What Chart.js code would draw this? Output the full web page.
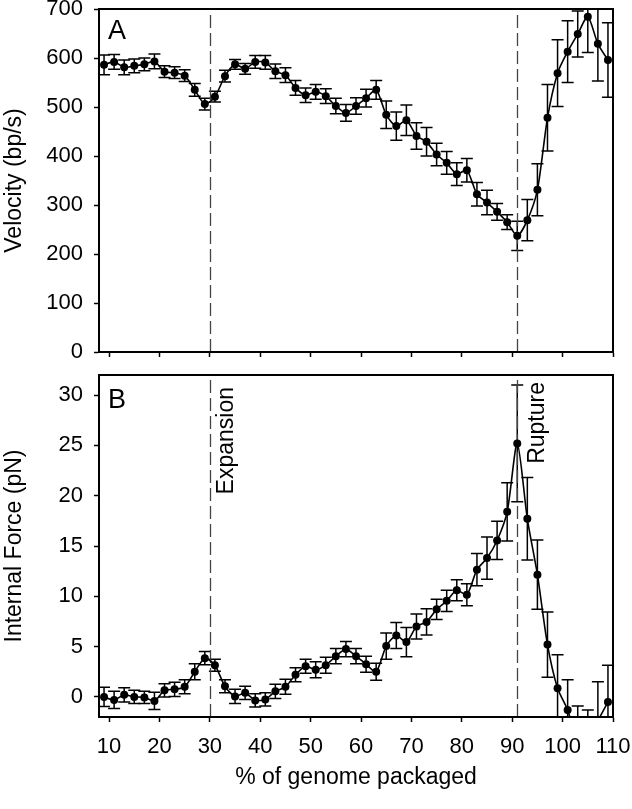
<!DOCTYPE html>
<html><head><meta charset="utf-8">
<script src="https://cdn.jsdelivr.net/npm/chart.js@4"></script>
<style>
html,body{margin:0;padding:0;background:#fff;}
#wrap{position:relative;width:632px;height:809px;overflow:hidden;background:#fff;}
canvas{position:absolute;left:0;}
</style></head><body>
<div id="wrap">
<canvas id="cA" width="632" height="365" style="top:0px"></canvas>
<canvas id="cB" width="632" height="444" style="top:365px"></canvas>
</div>
<script>
// ---- data ----
const percentPackaged = [9,11,13,15,17,19,21,23,25,27,29,31,33,35,37,39,41,43,45,47,49,51,53,55,57,59,61,63,65,67,69,71,73,75,77,79,81,83,85,87,89,91,93,95,97,99,101,103,105,107,109];
const velocity =    [586,592,581,584,587,593,572,570,564,535,506,521,563,587,578,592,591,573,565,539,524,531,522,502,488,502,518,535,484,461,473,441,429,403,386,363,371,322,305,286,265,237,269,331,478,569,613,649,684,629,596];
const velocityErr = [20,15,15,14,13,15,12,12,12,13,12,11,12,10,11,13,14,15,15,15,15,15,15,16,17,17,18,19,28,29,31,27,29,23,23,23,24,24,25,17,15,30,42,53,68,68,63,47,73,76,76];
const force =    [0.0,-0.3,0.2,0.0,-0.05,-0.4,0.65,0.75,1.0,2.5,3.85,3.15,1.05,0.05,0.4,-0.35,-0.25,0.55,1.0,2.2,3.05,2.7,3.15,4.05,4.75,4.05,3.25,2.5,5.05,6.1,5.45,7.0,7.45,8.7,9.55,10.6,10.15,12.65,13.8,15.55,18.4,25.2,17.7,12.15,5.2,0.85,-1.3,-4.5,-5.0,-2.4,-0.5];
const forceErr = [0.95,0.85,0.7,0.65,0.62,0.85,0.65,0.7,0.7,0.8,0.65,0.6,0.65,0.7,0.65,0.65,0.65,0.7,0.75,0.7,0.7,0.8,0.8,0.75,0.75,0.75,0.8,0.85,1.3,1.3,1.45,1.25,1.3,1.0,1.05,1.05,1.1,1.6,2.1,1.9,2.9,5.8,4.1,3.45,3.25,3.35,3.0,3.6,3.7,3.9,3.65];
const xTicks = [10,20,30,40,50,60,70,80,90,100,110];
const velocityTicks = [0,100,200,300,400,500,600,700];
const forceTicks = [0,5,10,15,20,25,30];
const eventPositions = [30, 91];
const eventLabels = ['Expansion', 'Rupture'];
const panelLetters = ['A', 'B'];
const yTitles = ['Velocity (bp/s)', 'Internal Force (pN)'];
const xTitle = '% of genome packaged';

const FONT = '"Liberation Sans", Arial, Helvetica, sans-serif';
Chart.defaults.font.family = FONT;
Chart.defaults.color = '#000';

function fixTicks(list){ return function(scale){ scale.ticks = list.map(v => ({value: v})); }; }
function zeroPad(scale){ scale.paddingTop = 0; scale.paddingBottom = 0; scale.paddingLeft = 0; scale.paddingRight = 0; }

const errorBars = {
  id: 'errorBars',
  beforeDatasetsDraw(chart, args, opts) {
    const {ctx, chartArea, scales} = chart;
    const x = scales.x, y = scales.y;
    ctx.save();
    ctx.beginPath();
    ctx.rect(chartArea.left, chartArea.top, chartArea.right - chartArea.left, chartArea.bottom - chartArea.top);
    ctx.clip();
    ctx.strokeStyle = '#000';
    ctx.lineWidth = 1.5;
    percentPackaged.forEach((xv, i) => {
      const px = x.getPixelForValue(xv);
      const lo = y.getPixelForValue(opts.values[i] - opts.errors[i]);
      const hi = y.getPixelForValue(opts.values[i] + opts.errors[i]);
      ctx.beginPath();
      ctx.moveTo(px, lo); ctx.lineTo(px, hi);
      ctx.moveTo(px - 6, lo); ctx.lineTo(px + 6, lo);
      ctx.moveTo(px - 6, hi); ctx.lineTo(px + 6, hi);
      ctx.stroke();
    });
    ctx.restore();
  }
};

const decorations = {
  id: 'decorations',
  beforeDatasetsDraw(chart, args, opts) {
    const {ctx, chartArea, scales} = chart;
    ctx.save();
    ctx.strokeStyle = '#444';
    ctx.lineWidth = 1.3;
    ctx.setLineDash([13, 5]);
    eventPositions.forEach(v => {
      const px = Math.round(scales.x.getPixelForValue(v)) + 0.5;
      ctx.beginPath();
      ctx.moveTo(px, chartArea.bottom);
      ctx.lineTo(px, chartArea.top);
      ctx.stroke();
    });
    ctx.restore();
  },
  afterDraw(chart, args, opts) {
    const {ctx, chartArea, scales} = chart;
    ctx.save();
    ctx.strokeStyle = '#000';
    ctx.lineWidth = 2;
    ctx.strokeRect(chartArea.left, chartArea.top, chartArea.right - chartArea.left, chartArea.bottom - chartArea.top);
    ctx.fillStyle = '#000';
    ctx.font = '27px ' + FONT;
    ctx.textAlign = 'left';
    ctx.textBaseline = 'alphabetic';
    ctx.fillText(opts.letter, chartArea.left + 9, chartArea.top + opts.letterDy);
    if (opts.events) {
      ctx.font = '23px ' + FONT;
      eventPositions.forEach((v, i) => {
        const px = scales.x.getPixelForValue(v) + opts.eventDx[i];
        ctx.save();
        ctx.translate(px, chartArea.top + opts.eventTop[i]);
        ctx.rotate(-Math.PI / 2);
        ctx.textAlign = 'right';
        ctx.textBaseline = 'alphabetic';
        ctx.fillText(eventLabels[i], 0, 0);
        ctx.restore();
      });
    }
    ctx.restore();
  }
};

function makeChart(id, values, errors, yMin, yMax, yTickList, yTitle, letter, isBottom, plotTop, xAxisHeight) {
  return new Chart(document.getElementById(id), {
    type: 'line',
    data: {
      labels: percentPackaged,
      datasets: [{
        data: percentPackaged.map((xv, i) => ({x: xv, y: values[i]})),
        borderColor: '#000',
        backgroundColor: '#000',
        borderWidth: 1.6,
        pointRadius: 4,
        pointBorderWidth: 0,
        pointBackgroundColor: '#000',
        tension: 0.25,
        fill: false
      }]
    },
    options: {
      responsive: false,
      animation: false,
      devicePixelRatio: 1,
      layout: { padding: { left: 0, right: 19, top: plotTop, bottom: 0 } },
      plugins: {
        legend: { display: false },
        tooltip: { enabled: false },
        errorBars: { values: values, errors: errors },
        decorations: {
          letter: letter,
          letterDy: isBottom ? 33 : 30,
          events: isBottom,
          eventDx: [23, 27],
          eventTop: [12, 7]
        }
      },
      scales: {
        x: {
          type: 'linear',
          min: 8, max: 110,
          afterBuildTicks: fixTicks(xTicks),
          afterFit: function(s){ zeroPad(s); s.height = xAxisHeight; },
          border: { display: true, color: '#000', width: 2 },
          grid: { display: true, drawOnChartArea: false, drawTicks: true, tickLength: 5, color: '#000', tickWidth: 1.5 },
          ticks: { display: isBottom, padding: 12, font: { size: 22 }, color: '#000', maxRotation: 0, autoSkip: false },
          title: { display: isBottom, text: xTitle, font: { size: 23 }, color: '#000', padding: { top: 0, bottom: 18 } }
        },
        y: {
          type: 'linear',
          min: yMin, max: yMax,
          afterBuildTicks: fixTicks(yTickList),
          afterFit: function(s){ zeroPad(s); s.width = 99; },
          border: { display: true, color: '#000', width: 2 },
          grid: { display: true, drawOnChartArea: false, drawTicks: true, tickLength: 5, color: '#000', tickWidth: 1.5 },
          ticks: { padding: 11, font: { size: 22 }, color: '#000', autoSkip: false },
          title: { display: true, text: yTitle, font: { size: 23 }, color: '#000', padding: { top: 1, bottom: 0 } }
        }
      }
    },
    plugins: [errorBars, decorations]
  });
}

makeChart('cA', velocity, velocityErr, 0, 700, velocityTicks, yTitles[0], panelLetters[0], false, 9, 13);
makeChart('cB', force, forceErr, -2, 32, forceTicks, yTitles[1], panelLetters[1], true, 10, 92);
</script>
</body></html>
